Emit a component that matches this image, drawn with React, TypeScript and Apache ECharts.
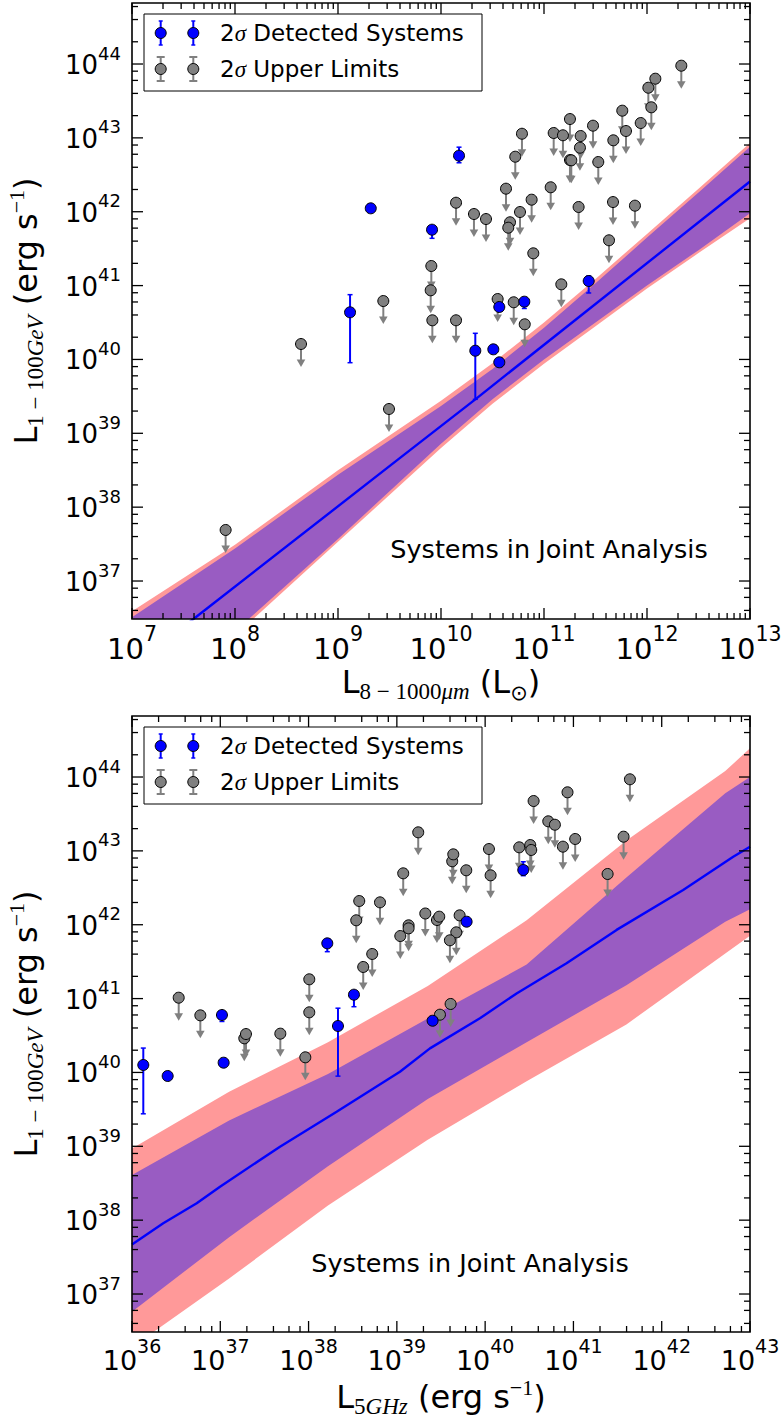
import React, { useEffect, useRef } from "react";
import * as echarts from "echarts";

const SANS = "DejaVu Sans";
const SERIF = "Liberation Serif";
const BLUE = "#0000ff";
const GREY = "#808080";
const PINK = "#ff9999";
const PURPLE = "#995cc2";
const INK = "#000000";

// ---------- axis ranges ----------
const Y_MIN = 3.06e36;
const Y_MAX = 6.7e44;
const TOP_X_MIN = 1e7;
const TOP_X_MAX = 1e13;
const BOT_X_MIN = 1e36;
const BOT_X_MAX = 1e43;

// ---------- tick labels (exponents of 10) ----------
const TOP_X_MAJOR = [7, 8, 9, 10, 11, 12, 13];
const BOT_X_MAJOR = [36, 37, 38, 39, 40, 41, 42, 43];
const Y_MAJOR = [37, 38, 39, 40, 41, 42, 43, 44];
const TOP_X_MINOR_SUBS = [2, 3, 4, 5, 6, 7, 8, 9];
const BOT_X_MINOR_SUBS = [2, 4, 6, 8];
const Y_MINOR_SUBS = [2, 4, 6, 8];

// ---------- top panel data (log10 L_IR, log10 L_gamma) ----------
// detected: [logX, logY, logY error low, logY error high]
const TOP_DETECTED = [
  [9.318, 42.046, 42.046, 42.046],
  [10.175, 42.759, 42.663, 42.874],
  [9.913, 41.757, 41.64, 41.8],
  [9.117, 40.638, 39.956, 40.877],
  [11.434, 41.062, 40.9, 41.13],
  [10.566, 40.71, 40.71, 40.71],
  [10.809, 40.782, 40.69, 40.8],
  [10.333, 40.118, 39.46, 40.354],
  [10.508, 40.137, 40.137, 40.137],
  [10.566, 39.961, 39.961, 39.961],
];
// upper limits: [logX, logY]
const TOP_UPPER = [
  [10.146, 42.122], [10.32, 41.969], [9.906, 41.265], [9.9, 40.936], [9.44, 40.791],
  [9.916, 40.53], [10.146, 40.53], [8.641, 40.209], [9.495, 39.329], [7.909, 37.691],
  [12.333, 43.977], [12.081, 43.801], [12.013, 43.679], [12.042, 43.414], [11.76, 43.368],
  [11.796, 43.093], [11.939, 43.201], [11.673, 42.967], [11.252, 43.255], [11.476, 43.165],
  [11.094, 43.066], [11.184, 43.035], [11.356, 43.025], [10.786, 43.056], [11.349, 42.867],
  [11.252, 42.7], [11.265, 42.696], [11.527, 42.673], [10.721, 42.745], [11.065, 42.331],
  [10.631, 42.312], [10.437, 41.901], [10.88, 42.163], [10.767, 41.996], [10.67, 41.857],
  [10.653, 41.784], [11.336, 42.064], [11.67, 42.131], [11.883, 42.082], [11.631, 41.613],
  [10.896, 41.437], [11.168, 41.017], [10.55, 40.818], [10.706, 40.774], [10.813, 40.476],
];
const TOP_LINE = [[7, 35.83], [7.628, 36.52], [9.587, 38.65], [10.333, 39.46], [13, 42.41]];
const TOP_BAND_LX = [7, 8, 9, 10, 10.5, 11, 11.5, 12, 12.5, 13];
const TOP_2S_HI = [36.59, 37.49, 38.5, 39.44, 39.95, 40.5, 41.09, 41.7, 42.31, 42.93];
const TOP_1S_HI = [36.51, 37.44, 38.44, 39.37, 39.87, 40.43, 41.03, 41.65, 42.26, 42.88];
const TOP_1S_LO = [35.11, 36.32, 37.57, 38.86, 39.46, 40.0, 40.5, 41.0, 41.48, 41.98];
const TOP_2S_LO = [35.04, 36.26, 37.53, 38.8, 39.4, 39.94, 40.45, 40.96, 41.44, 41.91];

// ---------- bottom panel data (log10 L_5GHz, log10 L_gamma) ----------
const BOT_DETECTED = [
  [38.212, 41.748, 41.635, 41.76],
  [38.514, 41.053, 40.89, 41.07],
  [37.019, 40.778, 40.69, 40.79],
  [38.333, 40.629, 39.95, 40.87],
  [39.79, 42.041, 42.041, 42.041],
  [39.405, 40.7, 40.7, 40.7],
  [36.128, 40.101, 39.44, 40.33],
  [36.404, 39.952, 39.952, 39.952],
  [37.038, 40.132, 40.1, 40.14],
  [40.432, 42.741, 42.664, 42.853],
];
const BOT_UPPER = [
  [36.529, 41.012], [36.774, 40.773], [38.008, 41.261], [38.008, 40.814], [38.574, 42.321],
  [38.54, 42.06], [38.809, 42.303], [38.619, 41.428], [38.721, 41.604], [39.242, 43.251],
  [39.072, 42.696], [39.627, 42.859], [39.639, 42.953], [39.786, 42.737], [39.322, 42.152],
  [39.454, 42.064], [39.48, 42.109], [39.711, 42.127], [39.133, 41.992], [39.133, 41.951],
  [39.039, 41.847], [39.673, 41.897], [39.601, 41.789], [39.609, 40.927], [39.488, 40.782],
  [37.272, 40.462], [37.291, 40.52], [37.68, 40.525], [37.963, 40.205], [41.64, 43.969],
  [40.933, 43.793], [40.549, 43.675], [40.715, 43.4], [40.79, 43.354], [41.02, 43.161],
  [40.881, 43.057], [40.386, 43.048], [40.511, 43.079], [40.522, 43.012], [40.043, 43.025],
  [40.062, 42.669], [41.568, 43.192], [41.387, 42.687],
];
const BOT_LINE = [
  [36.0, 37.67], [36.354, 37.957], [36.733, 38.228], [36.997, 38.453], [37.676, 38.995],
  [38.318, 39.469], [39.035, 40.01], [39.375, 40.326], [39.941, 40.733], [40.356, 41.07],
  [40.922, 41.478], [41.489, 41.93], [42.243, 42.47], [42.81, 42.92], [43.0, 43.056],
];
const BOT_BAND_LX = [36, 37.1, 38.22, 39.35, 40.47, 41.6, 42.72, 43];
const BOT_2S_HI = [38.97, 39.74, 40.41, 41.17, 42.06, 43.14, 44.08, 44.39];
const BOT_1S_HI = [38.61, 39.35, 39.98, 40.73, 41.46, 42.64, 43.78, 44.0];
const BOT_1S_LO = [36.76, 37.77, 38.73, 39.64, 40.41, 41.18, 42.04, 42.21];
const BOT_2S_LO = [36.28, 37.21, 38.2, 39.09, 39.88, 40.65, 41.61, 41.85];

// ---------- layout ----------
const GRID_LEFT = 132;
const GRID_WIDTH = 618;
const GRID_HEIGHT = 616;
const TOP_GRID_TOP = 3;
const BOT_GRID_TOP = 716;
const SHIFT = BOT_GRID_TOP - TOP_GRID_TOP;
const MAJOR_LEN = 11;
const MINOR_LEN = 6;
const Y_TICK_FONT = 26;
const Y_SUP_FONT = 18;
const DIGIT_EM = 0.6362;

const pow10 = (v: number) => Math.pow(10, v);

function textEl(text: string, x: number, y: number, size: number, align: string) {
  return {
    type: "text",
    silent: true,
    style: { text, x, y, fill: INK, fontSize: size, fontFamily: SANS, align, verticalAlign: "middle" },
  };
}

function frameRenderer(cfg: any) {
  const { xMin, xMax, xMajor, xSubs, xFont, xSup, xBaseDy, xSupDy } = cfg;
  return (params: any, api: any) => {
    const cs = params.coordSys;
    const L = cs.x, T = cs.y, R = cs.x + cs.width, B = cs.y + cs.height;
    const ch: any[] = [];
    const seg = (x1: number, y1: number, x2: number, y2: number) =>
      ch.push({ type: "line", shape: { x1, y1, x2, y2 }, style: { stroke: INK, lineWidth: 1.3 } });
    const xp = (v: number) => api.coord([v, Y_MIN])[0];
    const yp = (v: number) => api.coord([xMin, v])[1];
    const dx0 = Math.floor(Math.log10(xMin)), dx1 = Math.ceil(Math.log10(xMax));
    for (let d = dx0; d < dx1; d++) {
      for (const s of xSubs) {
        const v = s * pow10(d);
        if (v > xMin && v < xMax) {
          const x = xp(v);
          seg(x, B, x, B - MINOR_LEN);
          seg(x, T, x, T + MINOR_LEN);
        }
      }
    }
    const dy0 = Math.floor(Math.log10(Y_MIN)), dy1 = Math.ceil(Math.log10(Y_MAX));
    for (let d = dy0; d < dy1; d++) {
      for (const s of Y_MINOR_SUBS) {
        const v = s * pow10(d);
        if (v > Y_MIN && v < Y_MAX) {
          const y = yp(v);
          seg(L, y, L + MINOR_LEN, y);
          seg(R, y, R - MINOR_LEN, y);
        }
      }
    }
    for (const e of xMajor) {
      const x = xp(pow10(e));
      seg(x, B, x, B - MAJOR_LEN);
      seg(x, T, x, T + MAJOR_LEN);
      const sup = String(e);
      const wb = 2 * DIGIT_EM * xFont;
      const ws = sup.length * DIGIT_EM * xSup;
      const left = x - (wb + ws) / 2;
      ch.push(textEl("10", left, B + xBaseDy, xFont, "left"));
      ch.push(textEl(sup, left + wb, B + xSupDy, xSup, "left"));
    }
    for (const e of Y_MAJOR) {
      const y = yp(pow10(e));
      seg(L, y, L + MAJOR_LEN, y);
      seg(R, y, R - MAJOR_LEN, y);
      const sup = String(e);
      const ws = sup.length * DIGIT_EM * Y_SUP_FONT;
      const right = L - 11;
      ch.push(textEl(sup, right, y - 11, Y_SUP_FONT, "right"));
      ch.push(textEl("10", right - ws, y + 1, Y_TICK_FONT, "right"));
    }
    ch.push({
      type: "rect",
      shape: { x: L, y: T, width: cs.width, height: cs.height },
      style: { fill: "none", stroke: INK, lineWidth: 1.6 },
    });
    return { type: "group", children: ch };
  };
}

function bandRenderer(lx: number[], hi2: number[], hi1: number[], lo1: number[], lo2: number[]) {
  return (params: any, api: any) => {
    const poly = (hi: number[], lo: number[]) => {
      const a = lx.map((x, i) => api.coord([pow10(x), pow10(hi[i])]));
      const b = lx.map((x, i) => api.coord([pow10(x), pow10(lo[i])])).reverse();
      return a.concat(b);
    };
    return {
      type: "group",
      children: [
        { type: "polygon", shape: { points: poly(hi2, lo2) }, style: { fill: PINK } },
        { type: "polygon", shape: { points: poly(hi1, lo1) }, style: { fill: PURPLE } },
      ],
    };
  };
}

function arrowRenderer(params: any, api: any) {
  const p = api.coord([api.value(0), api.value(1)]);
  return {
    type: "group",
    children: [
      { type: "line", shape: { x1: p[0], y1: p[1], x2: p[0], y2: p[1] + 16.5 }, style: { stroke: GREY, lineWidth: 2 } },
      {
        type: "polygon",
        shape: { points: [[p[0] - 4.3, p[1] + 15.5], [p[0] + 4.3, p[1] + 15.5], [p[0], p[1] + 23]] },
        style: { fill: GREY },
      },
    ],
  };
}

function greyDotRenderer(params: any, api: any) {
  const p = api.coord([api.value(0), api.value(1)]);
  return { type: "circle", shape: { cx: p[0], cy: p[1], r: 5.5 }, style: { fill: GREY, stroke: INK, lineWidth: 1 } };
}

function detectedRenderer(params: any, api: any) {
  const p = api.coord([api.value(0), api.value(1)]);
  const lo = api.coord([api.value(0), api.value(2)])[1];
  const hi = api.coord([api.value(0), api.value(3)])[1];
  const ch: any[] = [];
  if (lo - hi > 1) {
    ch.push({ type: "line", shape: { x1: p[0], y1: hi, x2: p[0], y2: lo }, style: { stroke: BLUE, lineWidth: 2 } });
    ch.push({ type: "line", shape: { x1: p[0] - 2.5, y1: hi, x2: p[0] + 2.5, y2: hi }, style: { stroke: BLUE, lineWidth: 1.5 } });
    ch.push({ type: "line", shape: { x1: p[0] - 2.5, y1: lo, x2: p[0] + 2.5, y2: lo }, style: { stroke: BLUE, lineWidth: 1.5 } });
  }
  ch.push({ type: "circle", shape: { cx: p[0], cy: p[1], r: 5.5 }, style: { fill: BLUE, stroke: INK, lineWidth: 1 } });
  return { type: "group", children: ch };
}

function panelSeries(idx: number, cfg: any) {
  const common = { xAxisIndex: idx, yAxisIndex: idx, silent: true };
  return [
    {
      ...common, type: "custom", clip: true, z: 1,
      data: [[cfg.xMin * 10, Y_MIN * 10]],
      renderItem: bandRenderer(cfg.bandLx, cfg.hi2, cfg.hi1, cfg.lo1, cfg.lo2),
    },
    {
      ...common, type: "line", z: 2, clip: true, showSymbol: false, symbol: "none",
      data: cfg.line.map((d: number[]) => [pow10(d[0]), pow10(d[1])]),
      lineStyle: { color: BLUE, width: 2.4 },
    },
    {
      ...common, type: "custom", z: 3,
      data: cfg.upper.map((d: number[]) => [pow10(d[0]), pow10(d[1])]),
      renderItem: arrowRenderer,
    },
    {
      ...common, type: "custom", z: 4,
      data: cfg.upper.map((d: number[]) => [pow10(d[0]), pow10(d[1])]),
      renderItem: greyDotRenderer,
    },
    {
      ...common, type: "custom", z: 5, encode: { x: 0, y: 1 },
      data: cfg.det.map((d: number[]) => d.map(pow10)),
      renderItem: detectedRenderer,
    },
    {
      ...common, type: "custom", z: 6,
      data: [[cfg.xMin, Y_MIN]],
      renderItem: frameRenderer(cfg),
    },
  ];
}

const LEGEND_RICH = {
  n: { fontSize: 23, fontFamily: SANS, fill: INK },
  g: { fontSize: 23, fontFamily: SERIF, fontStyle: "italic", fill: INK },
};

function legendGraphic(dy: number) {
  const els: any[] = [];
  els.push({
    type: "rect", z: 100, silent: true,
    shape: { x: 144, y: 14 + dy, width: 338, height: 77 },
    style: { fill: "#ffffff", stroke: INK, lineWidth: 1 },
  });
  const r1 = 33 + dy, r2 = 69 + dy;
  for (const mx of [160.7, 193.3]) {
    els.push({ type: "line", z: 101, silent: true, shape: { x1: mx, y1: r1 - 12, x2: mx, y2: r1 + 12 }, style: { stroke: BLUE, lineWidth: 2 } });
    els.push({ type: "line", z: 101, silent: true, shape: { x1: mx - 2, y1: r1 - 12, x2: mx + 2, y2: r1 - 12 }, style: { stroke: BLUE, lineWidth: 1.5 } });
    els.push({ type: "line", z: 101, silent: true, shape: { x1: mx - 2, y1: r1 + 12, x2: mx + 2, y2: r1 + 12 }, style: { stroke: BLUE, lineWidth: 1.5 } });
    els.push({ type: "circle", z: 102, silent: true, shape: { cx: mx, cy: r1, r: 5.5 }, style: { fill: BLUE, stroke: INK, lineWidth: 1 } });
    els.push({ type: "line", z: 101, silent: true, shape: { x1: mx, y1: r2 - 12, x2: mx, y2: r2 + 12 }, style: { stroke: GREY, lineWidth: 2 } });
    els.push({ type: "line", z: 101, silent: true, shape: { x1: mx - 4, y1: r2 - 12, x2: mx + 4, y2: r2 - 12 }, style: { stroke: GREY, lineWidth: 2 } });
    els.push({ type: "line", z: 101, silent: true, shape: { x1: mx - 4, y1: r2 + 12, x2: mx + 4, y2: r2 + 12 }, style: { stroke: GREY, lineWidth: 2 } });
    els.push({ type: "circle", z: 102, silent: true, shape: { cx: mx, cy: r2, r: 5.5 }, style: { fill: GREY, stroke: INK, lineWidth: 1 } });
  }
  els.push({
    type: "text", z: 102, silent: true, x: 220, y: r1,
    style: { text: "{n|2}{g|σ}{n| Detected Systems}", rich: LEGEND_RICH, align: "left", verticalAlign: "middle" },
  });
  els.push({
    type: "text", z: 102, silent: true, x: 220, y: r2,
    style: { text: "{n|2}{g|σ}{n| Upper Limits}", rich: LEGEND_RICH, align: "left", verticalAlign: "middle" },
  });
  return els;
}

const TITLE_RICH = {
  b: { fontSize: 32, fontFamily: SANS, fill: INK, lineHeight: 32, padding: [0, 0, 5, 0], verticalAlign: "bottom" },
  s: { fontSize: 23, fontFamily: SERIF, fill: INK, lineHeight: 22, verticalAlign: "bottom" },
  si: { fontSize: 23, fontFamily: SERIF, fontStyle: "italic", fill: INK, lineHeight: 22, verticalAlign: "bottom" },
  o: { fontSize: 21, fontFamily: SANS, fill: INK, lineHeight: 22, verticalAlign: "bottom" },
  p: { fontSize: 22, fontFamily: SERIF, fill: INK, lineHeight: 22, padding: [0, 0, 20, 0], verticalAlign: "bottom" },
};

function titleGraphic() {
  const t = (text: string, x: number, y: number, rotation: number) => ({
    type: "text", z: 102, silent: true, x, y, rotation,
    style: { text, x: 0, y: 0, rich: TITLE_RICH, align: "center", verticalAlign: "middle" },
  });
  const note = (x: number, y: number) => ({
    type: "text", z: 102, silent: true, x, y,
    style: { text: "Systems in Joint Analysis", x: 0, y: 0, fill: INK, fontSize: 25.5, fontFamily: SANS, align: "center", verticalAlign: "middle" },
  });
  return [
    t("{b|L}{s|8 − 1000}{si|μm}{b| (L}{o|⊙}{b|)}", 441, 687, 0),
    t("{b|L}{s|5}{si|GHz}{b| (erg s}{p|−1}{b|)}", 441, 1402, 0),
    t("{b|L}{s|1 − 100}{si|GeV}{b| (erg s}{p|−1}{b|)}", 31, 311, Math.PI / 2),
    t("{b|L}{s|1 − 100}{si|GeV}{b| (erg s}{p|−1}{b|)}", 31, 311 + SHIFT, Math.PI / 2),
    note(549, 549),
    note(470, 549 + SHIFT + 1),
  ];
}

function buildOption() {
  const axisCommon = { type: "log", logBase: 10, show: false, splitLine: { show: false } };
  return {
    animation: false,
    backgroundColor: "#ffffff",
    grid: [
      { left: GRID_LEFT, top: TOP_GRID_TOP, width: GRID_WIDTH, height: GRID_HEIGHT, show: false },
      { left: GRID_LEFT, top: BOT_GRID_TOP, width: GRID_WIDTH, height: GRID_HEIGHT, show: false },
    ],
    xAxis: [
      { ...axisCommon, gridIndex: 0, min: TOP_X_MIN, max: TOP_X_MAX },
      { ...axisCommon, gridIndex: 1, min: BOT_X_MIN, max: BOT_X_MAX },
    ],
    yAxis: [
      { ...axisCommon, gridIndex: 0, min: Y_MIN, max: Y_MAX },
      { ...axisCommon, gridIndex: 1, min: Y_MIN, max: Y_MAX },
    ],
    series: [
      ...panelSeries(0, {
        xMin: TOP_X_MIN, xMax: TOP_X_MAX, xMajor: TOP_X_MAJOR, xSubs: TOP_X_MINOR_SUBS,
        xFont: 29, xSup: 20.5, xBaseDy: 30, xSupDy: 15,
        det: TOP_DETECTED, upper: TOP_UPPER, line: TOP_LINE,
        bandLx: TOP_BAND_LX, hi2: TOP_2S_HI, hi1: TOP_1S_HI, lo1: TOP_1S_LO, lo2: TOP_2S_LO,
      }),
      ...panelSeries(1, {
        xMin: BOT_X_MIN, xMax: BOT_X_MAX, xMajor: BOT_X_MAJOR, xSubs: BOT_X_MINOR_SUBS,
        xFont: 27, xSup: 19, xBaseDy: 28, xSupDy: 14,
        det: BOT_DETECTED, upper: BOT_UPPER, line: BOT_LINE,
        bandLx: BOT_BAND_LX, hi2: BOT_2S_HI, hi1: BOT_1S_HI, lo1: BOT_1S_LO, lo2: BOT_2S_LO,
      }),
    ],
    graphic: [...legendGraphic(0), ...legendGraphic(SHIFT), ...titleGraphic()],
  };
}

export default function App() {
  const ref = useRef<HTMLDivElement>(null);
  useEffect(() => {
    document.body.style.margin = "0";
    const chart = echarts.init(ref.current as HTMLDivElement, null, { renderer: "svg" });
    chart.setOption(buildOption() as any);
    return () => chart.dispose();
  }, []);
  return <div ref={ref} style={{ width: 784, height: 1419 }} />;
}
